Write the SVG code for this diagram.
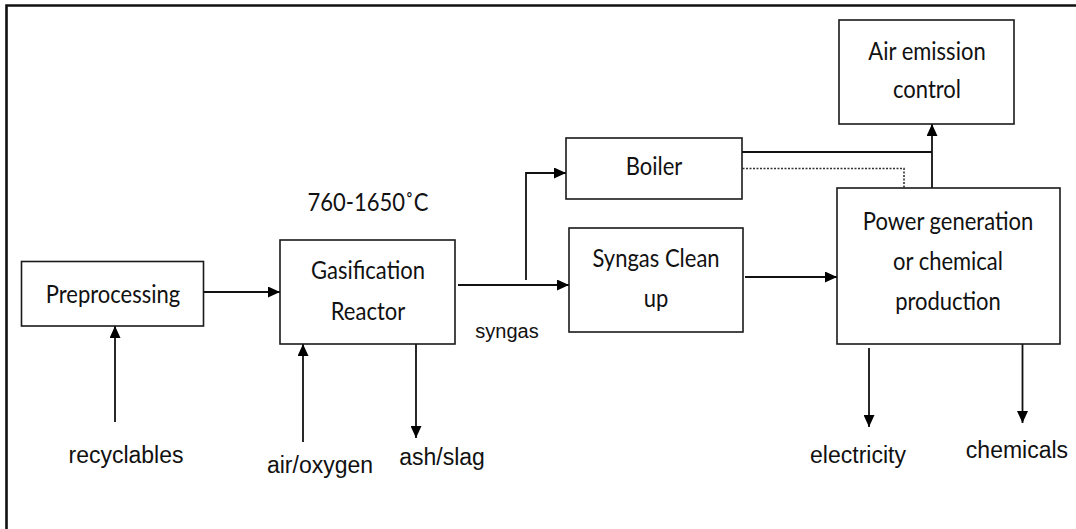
<svg xmlns="http://www.w3.org/2000/svg" width="1076" height="529" viewBox="0 0 1076 529">
<defs>
<marker id="ah" markerUnits="userSpaceOnUse" markerWidth="12" markerHeight="11" refX="12" refY="5.5" orient="auto">
<path d="M0,0 L12,5.5 L0,11 z" fill="#000"/>
</marker>
<style>
.box{fill:#fff;stroke:#1a1a1a;stroke-width:1.6}
.lbl{font-family:Lato,"Open Sans",sans-serif;font-size:22px;fill:#111;text-anchor:middle}
.ext{font-family:"Liberation Sans",Arial,sans-serif;font-size:23px;fill:#111;text-anchor:middle}
.ln{fill:none;stroke:#111;stroke-width:1.8}
.arr{fill:none;stroke:#111;stroke-width:1.8;marker-end:url(#ah)}
.dot{fill:none;stroke:#333;stroke-width:1.6;stroke-dasharray:2,1.5}
</style>
</defs>
<rect x="0" y="0" width="1076" height="529" fill="#fff"/>
<path d="M6.5,540 L6.5,5.5 L1090,5.5" fill="none" stroke="#111" stroke-width="2.6"/>

<g id="connectors">
<line class="arr" x1="204" y1="292" x2="280" y2="292"/>
<line class="arr" x1="115" y1="422" x2="115" y2="326"/>
<line class="arr" x1="303" y1="442" x2="303" y2="344"/>
<line class="arr" x1="416" y1="344" x2="416" y2="438"/>
<line class="arr" x1="458" y1="285" x2="569" y2="285"/>
<polyline class="arr" points="526,280 526,173 566,173"/>
<line class="arr" x1="745" y1="277" x2="837" y2="277"/>
<polyline class="ln" points="739,152 932,152"/>
<line class="arr" x1="932" y1="188" x2="932" y2="124"/>
<polyline class="dot" points="739,168.5 904,168.5 904,188"/>
<line class="arr" x1="869" y1="348" x2="869" y2="427"/>
<line class="arr" x1="1022.5" y1="344" x2="1022.5" y2="423"/>
</g>

<g id="preprocessing">
<rect class="box" x="21.5" y="261.5" width="182" height="64.5"/>
<text class="lbl" transform="translate(113,303) scale(1,1.15)">Preprocessing</text>
</g>
<g id="gasification">
<rect class="box" x="280" y="240" width="175" height="104"/>
<text class="lbl" transform="translate(368,279) scale(1,1.15)">Gasification</text>
<text class="lbl" transform="translate(368,320) scale(1,1.15)">Reactor</text>
</g>
<g id="temperature">
<text class="lbl" transform="translate(368,211) scale(1,1.15)">760-1650˚C</text>
</g>
<g id="boiler">
<rect class="box" x="566" y="138" width="176" height="61"/>
<text class="lbl" transform="translate(654,175) scale(1,1.15)">Boiler</text>
</g>
<g id="syngas-cleanup">
<rect class="box" x="569" y="228" width="174" height="104"/>
<text class="lbl" transform="translate(656,267) scale(1,1.15)">Syngas Clean</text>
<text class="lbl" transform="translate(656,307) scale(1,1.15)">up</text>
</g>
<g id="air-emission">
<rect class="box" x="839" y="20" width="175" height="104"/>
<text class="lbl" transform="translate(927,60) scale(1,1.15)">Air emission</text>
<text class="lbl" transform="translate(927,98) scale(1,1.15)">control</text>
</g>
<g id="power">
<rect class="box" x="837" y="188" width="223" height="156"/>
<text class="lbl" transform="translate(948,230) scale(1,1.15)">Power generation</text>
<text class="lbl" transform="translate(948,270) scale(1,1.15)">or chemical</text>
<text class="lbl" transform="translate(948,310) scale(1,1.15)">production</text>
</g>
<g id="labels">
<text class="ext" x="126" y="463">recyclables</text>
<text class="ext" x="320" y="473">air/oxygen</text>
<text class="ext" x="442" y="465">ash/slag</text>
<text class="ext" x="507" y="338" style="font-size:20px">syngas</text>
<text class="ext" x="858" y="463">electricity</text>
<text class="ext" x="1017" y="458">chemicals</text>
</g>
</svg>
